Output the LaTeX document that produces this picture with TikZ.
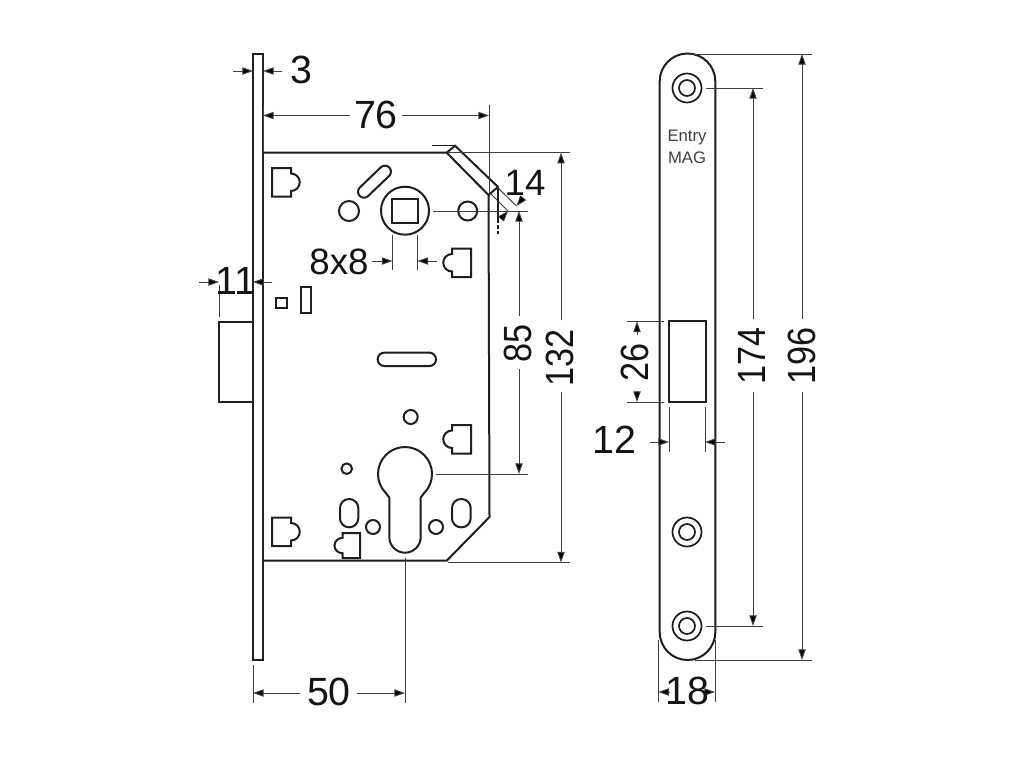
\documentclass[tikz,border=0pt]{standalone}
\usepackage{fontspec}
\setmainfont{Liberation Sans}
\newfontfamily\narrowfont[FakeStretch=0.87]{Liberation Sans}
\usetikzlibrary{arrows.meta}
\tikzset{
  part/.style={draw=black!88,line width=1.5pt,line join=miter},
  thinline/.style={draw=black!75,line width=0.75pt},
  dim/.style={thinline,-{Triangle[length=8pt,width=5.5pt,fill=black]}},
  num/.style={font=\fontsize{29.5pt}{32pt}\selectfont,text=black!92,inner sep=0pt},
  vnum/.style={font=\narrowfont\fontsize{29.5pt}{32pt}\selectfont,text=black!92,inner sep=0pt,rotate=90},
  smallnum/.style={font=\fontsize{27.5pt}{30pt}\selectfont,text=black!92,inner sep=0pt},
  brand/.style={font=\fontsize{12.5pt}{14pt}\selectfont,text=black!75,inner sep=0pt,anchor=base},
  cam/.pic={\draw[part] (0,0)--(19,0)--(19,5.5) arc[start angle=-90,delta angle=180,radius=8.75]--(19,28.5)--(0,28.5)--cycle;},
  screw/.pic={\draw[part,line width=1.3pt] (0,0) circle[radius=14.5] (0,0) circle[radius=8];}
}
\begin{document}
\begin{tikzpicture}[x=0.75pt,y=-0.75pt]
\useasboundingbox (0,0) rectangle (1024,768);
\fill[white] (0,0) rectangle (1024,768);

% side view: face plate, bolt, body
\draw[part] (253,53.5) rectangle (262.7,660);
\draw[part] (253,321.7)--(219,321.7)--(219,401.7)--(253,401.7);
\draw[part] (263,152.7)--(446.7,152.7)--(488.5,195)--(489.5,517)--(446.7,560.7)--(263,560.7);
\draw[part] (446.7,152.7)--(455,145.7)--(498,187)--(488.5,195);
\draw[part,line width=1.1pt] (455,145.5)--(432,145.5);
\draw[part] (498,187)--(498,220);
\draw[part,dashed,dash pattern=on 2.5pt off 1.5pt] (498,220)--(498,235);

% cams
\pic at (272,168) {cam};
\pic at (272,517.5) {cam};
\pic[xscale=-1] at (471,248.5) {cam};
\pic[xscale=-1] at (471,425) {cam};
\pic[xscale=-0.92,yscale=0.88] at (360,533) {cam};

% holes and slots
\draw[part] (349,211) circle[radius=10];
\draw[part] (467.7,211) circle[radius=9.5];
\draw[part] (405,210.7) circle[radius=24];
\draw[part] (392,199) rectangle (418,223);
\draw[part] (368.1,196)--(389.1,176) arc[start angle=46.4,delta angle=-180,radius=6]--(359.9,187.4) arc[start angle=226.4,delta angle=-180,radius=6]--cycle;
\draw[part] (276,298) rectangle (286.5,308);
\draw[part] (301,287) rectangle (310.7,312.7);
\draw[part,rounded corners=4.9pt] (377.7,352.7) rectangle (436,366);
\draw[part] (410.7,417) circle[radius=7];
\draw[part] (346.7,468.7) circle[radius=5.3];
\draw[part] (373,527) circle[radius=7];
\draw[part] (436,527) circle[radius=7];
\draw[part,rounded corners=6.8pt] (340,499) rectangle (358.3,527.3);
\draw[part,rounded corners=6.8pt] (452,499) rectangle (470.7,527.3);
\draw[part] (389.3,537) arc[start angle=180,delta angle=-180,radius=15.7]--(420.7,497.5)--(424.1,493.1) arc[start angle=45,delta angle=-270,radius=27]--(389.3,497.5)--cycle;

% dimension 3
\draw[dim] (233,71)--(253,71);
\draw[dim] (282,71)--(263,71);
\node[num] (t3) at (301,70) {3};
% dimension 76
\draw[thinline] (263,105)--(263,152);
\draw[thinline] (489,105)--(489,193);
\draw[dim] (350,115.5)--(263,115.5);
\draw[dim] (402,115.5)--(489,115.5);
\node[num] (t76) at (376,114.5) {76};
% dimension 14
\draw[thinline] (497,187)--(516.5,206);
\draw[thinline] (490,193)--(508,211);
\draw[dim,line width=0.5pt] (523,198)--(516.5,206);
\draw[dim,line width=0.5pt] (501,219)--(508,211);
\node[smallnum] (t14) at (525,183) {14};
% dimension 8x8
\draw[thinline] (392.5,235)--(392.5,270);
\draw[thinline] (417.5,235)--(417.5,270);
\draw[dim] (372,261)--(392.5,261);
\draw[dim] (437,261)--(417.5,261);
\node[smallnum] (t8) at (339,261.5) {8x8};
% dimension 11
\draw[thinline] (219,285)--(219,317);
\draw[dim] (199,282)--(219,282);
\draw[dim] (272,282)--(253,282);
\node[num] (t11) at (236,281) {11};
% dimension 85
\draw[thinline] (433,211)--(528,211);
\draw[thinline] (436,474)--(528,474);
\draw[dim] (519,316)--(519,211);
\draw[dim] (519,369)--(519,474);
\node[vnum] (t85) at (517.5,343) {85};
% dimension 132
\draw[thinline] (448,152.7)--(570,152.7);
\draw[thinline] (448,562.5)--(570,562.5);
\draw[dim] (561,320)--(561,152.7);
\draw[dim] (561,392)--(561,562.5);
\node[vnum] (t132) at (559.5,357.5) {132};
% dimension 50
\draw[thinline] (253,665)--(253,703);
\draw[thinline] (405,558)--(405,703);
\draw[dim] (300,693)--(253,693);
\draw[dim] (357,693)--(405,693);
\node[num] (t50) at (329,692) {50};

% front view
\draw[part] (659.7,81.3) arc[start angle=180,delta angle=180,radius=27.8]--(715.3,632.2) arc[start angle=0,delta angle=180,radius=27.8]--cycle;
\pic at (687,88) {screw};
\pic at (687,532) {screw};
\pic at (687,626) {screw};
\node[brand] (entry) at (687,141.5) {Entry};
\node[brand] (mag) at (687,163) {MAG};
\draw[part] (669,321) rectangle (705.7,402);
% dimension 26
\draw[thinline] (627,321.5)--(664,321.5);
\draw[thinline] (627,402)--(664,402);
\draw[dim] (637,335)--(637,321.5);
\draw[dim] (637,391)--(637,402);
\node[vnum] (t26) at (634.5,362) {26};
% dimension 12
\draw[thinline] (669,407)--(669,452);
\draw[thinline] (705,407)--(705,452);
\draw[dim] (650,442)--(669,442);
\draw[dim] (725,442)--(705,442);
\node[num] (t12) at (614,440) {12};
% dimension 174
\draw[thinline] (706,88)--(763,88);
\draw[thinline] (706,626)--(763,626);
\draw[dim] (753,319)--(753,88);
\draw[dim] (753,392)--(753,626);
\node[vnum] (t174) at (752,355.5) {174};
% dimension 196
\draw[thinline] (690,54)--(812,54);
\draw[thinline] (695,660)--(812,660);
\draw[dim] (802,319)--(802,54);
\draw[dim] (802,392)--(802,660);
\node[vnum] (t196) at (801.5,355.5) {196};
% dimension 18
\draw[thinline] (658.3,640)--(658.3,702);
\draw[thinline] (715,640)--(715,702);
\draw[dim] (669,692)--(658.3,692);
\draw[dim] (704,692)--(715,692);
\node[num] (t18) at (687,690.5) {18};
\end{tikzpicture}
\end{document}
